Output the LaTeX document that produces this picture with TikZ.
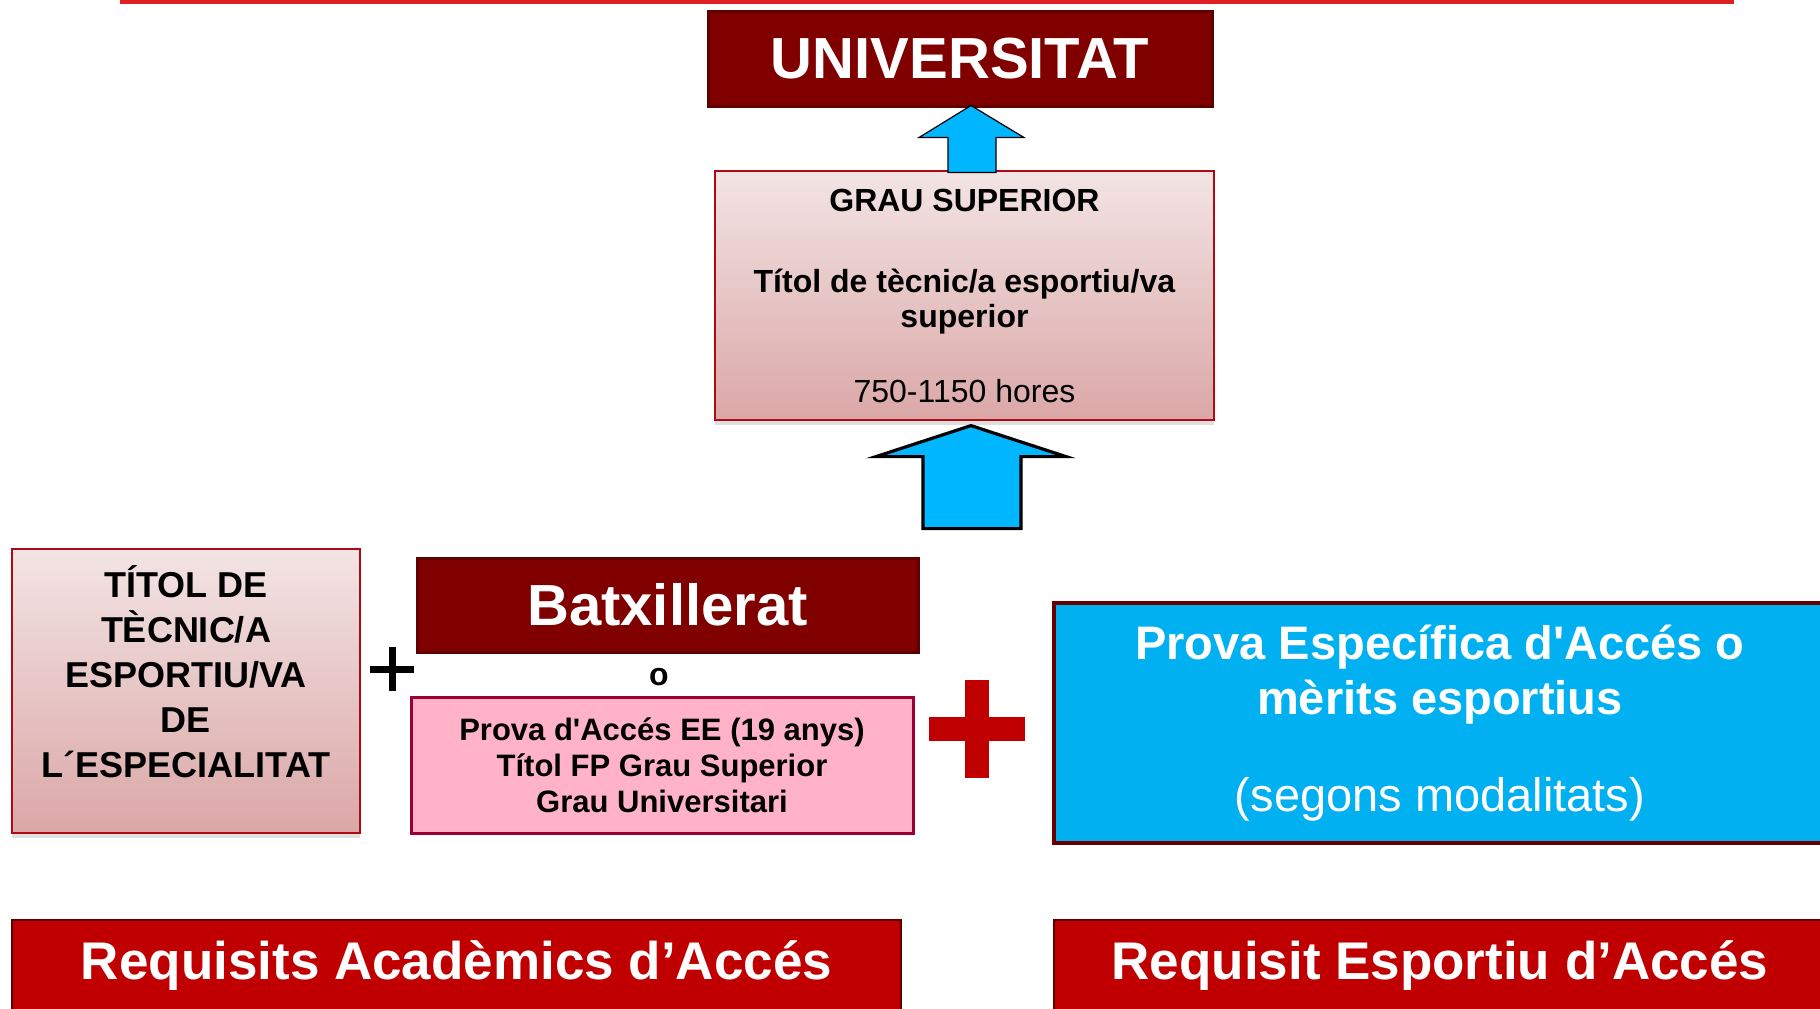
\documentclass[tikz,border=0pt]{standalone}
\usepackage{fontspec}
\setmainfont{Liberation Sans}[Ligatures=TeXOff]
\usetikzlibrary{shadows,calc}
\definecolor{univred}{RGB}{128,0,0}
\definecolor{univedge}{RGB}{92,0,0}
\definecolor{softtop}{RGB}{243,228,228}
\definecolor{softbot}{RGB}{219,167,167}
\definecolor{softedge}{RGB}{175,10,20}
\definecolor{pinkfill}{RGB}{255,178,200}
\definecolor{pinkedge}{RGB}{155,0,52}
\definecolor{skyblue}{RGB}{0,176,240}
\definecolor{arrowblue}{RGB}{0,183,255}
\definecolor{blueedge}{RGB}{104,0,0}
\definecolor{barred}{RGB}{192,0,0}
\definecolor{linered}{RGB}{222,32,36}
\tikzset{
  darkbox/.style={rectangle, fill=univred, draw=univedge, line width=1.5pt, inner sep=0pt, text=white},
  softbox/.style={rectangle, top color=softtop, bottom color=softbot, draw=softedge, line width=0.6pt, inner sep=0pt,
    drop shadow={shadow xshift=0pt, shadow yshift=-2.5pt, opacity=0.25}},
  pinkbox/.style={rectangle, fill=pinkfill, draw=pinkedge, line width=1.5pt, inner sep=0pt, align=center},
  bluebox/.style={rectangle, fill=skyblue, draw=blueedge, line width=2pt, inner sep=0pt, text=white, align=center},
  barbox/.style={rectangle, fill=barred, draw=univedge, line width=0.6pt, inner sep=0pt, text=white,
    font=\bfseries\fontsize{26.5pt}{31pt}\selectfont},
  blockarrow/.style={fill=arrowblue, draw=black, line join=miter}
}
\begin{document}
\begin{tikzpicture}[x=0.5pt, y=-0.5pt]
\useasboundingbox (0,0) rectangle (1820,1008);
\clip (0,0) rectangle (1820,1008);
\coordinate (lineL) at (120,2);
\coordinate (lineR) at (1734,2);
\draw[linered, line width=1.6pt] (lineL) -- (lineR);
\node[darkbox, minimum width=252pt, minimum height=47.5pt, font=\bfseries\fontsize{29pt}{34pt}\selectfont] (univ) at (960,58.5) {UNIVERSITAT};
\node[softbox, minimum width=249.5pt, minimum height=124.5pt, align=center, font=\fontsize{16pt}{17.5pt}\selectfont] (grau) at (964.5,295.5)
  {\textbf{GRAU SUPERIOR}\\[23pt]\textbf{Títol de tècnic/a esportiu/va}\\\textbf{superior}\\[20pt]750-1150 hores};
\draw[blockarrow, line width=0.6pt] ($(univ.south)+(11,-2)$) -- ++(53,32) -- ++(-28,0) -- ++(0,35) -- ++(-48,0) -- ++(0,-35) -- ++(-29,0) -- cycle;
\draw[blockarrow, line width=1.6pt] ($(grau.south)+(6.5,5)$) -- ++(95,31) -- ++(-45,0) -- ++(0,72) -- ++(-98,0) -- ++(0,-72) -- ++(-47,0) -- cycle;
\node[softbox, minimum width=174pt, minimum height=142pt] (titol) at (186,691) {};
\node[align=center, font=\bfseries\fontsize{18pt}{22.5pt}\selectfont] (titoltxt) at (186,672)
  {TÍTOL DE\\TÈCNIC/A\\ESPORTIU/VA\\DE\\L´ESPECIALITAT};
\coordinate (plusa) at (392,669);
\draw[line width=3.5pt] (plusa) ++(-22,0) -- ++(44,0) (plusa) ++(0,-22) -- ++(0,44);
\node[darkbox, minimum width=250.5pt, minimum height=47pt, font=\bfseries\fontsize{29pt}{34pt}\selectfont] (batx) at (667.5,605) {Batxillerat};
\node[font=\bfseries\fontsize{16pt}{18pt}\selectfont] (ortxt) at (659,677) {o};
\node[pinkbox, minimum width=251pt, minimum height=68pt, font=\bfseries\fontsize{15.5pt}{18pt}\selectfont] (prova) at (662,765)
  {Prova d'Accés EE (19 anys)\\Títol FP Grau Superior\\Grau Universitari};
\coordinate (plusb) at (977,729);
\draw[barred, line width=12pt] (plusb) ++(-48,0) -- ++(96,0) (plusb) ++(0,-49) -- ++(0,98);
\node[bluebox, minimum width=386pt, minimum height=120pt, font=\fontsize{23.5pt}{27.5pt}\selectfont] (espec) at (1440,723)
  {\textbf{Prova Específica d'Accés o}\\\textbf{mèrits esportius}\\[21pt](segons modalitats)};
\node[barbox, minimum width=444.5pt, minimum height=46pt] (acad) at (456.5,966) {Requisits Acadèmics d’Accés};
\node[barbox, minimum width=386pt, minimum height=46pt] (esport) at (1440,966) {Requisit Esportiu d’Accés};
\end{tikzpicture}
\end{document}
